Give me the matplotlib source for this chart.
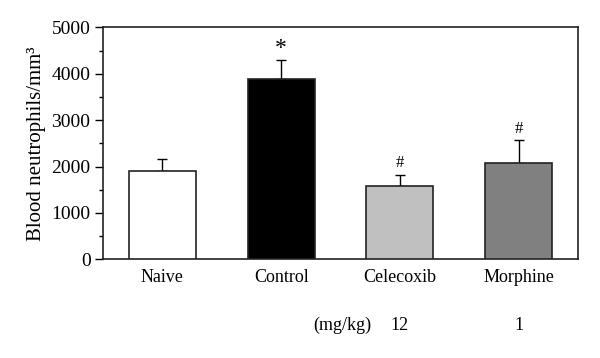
import numpy as np
import matplotlib
matplotlib.use("Agg")
import matplotlib.pyplot as plt
from matplotlib.ticker import MultipleLocator

plt.rcParams['font.family'] = ['Liberation Serif', 'DejaVu Serif']

# data
groups = ['Naive', 'Control', 'Celecoxib', 'Morphine']
means = [1903, 3892, 1586, 2069]
sem = [259, 397, 237, 496]
marks = ['', '*', '#', '#']
doses = ['', '', '12', '1']
colors = ['white', 'black', '#c0c0c0', '#808080']

fig = plt.figure(figsize=(6, 3.58), dpi=100)
ax = fig.add_axes([0.1717, 0.2757, 0.7916, 0.648])

x = np.arange(len(groups))
ax.bar(x, means, width=0.565, color=colors, edgecolor='#222222',
       linewidth=1.2, zorder=3)
ax.errorbar(x, means, yerr=[np.zeros(len(sem)), sem], fmt='none',
            ecolor='black', elinewidth=1, capsize=3.3, capthick=1, zorder=2)

# significance marks
for xi, m, s, mk in zip(x, means, sem, marks):
    if mk == '*':
        ax.text(xi, m + s + 20, mk, ha='center', va='bottom', fontsize=17)
    elif mk:
        ax.text(xi, m + s + 70, mk, ha='center', va='bottom', fontsize=12)

ax.set_xlim(-0.5, 3.5)
ax.set_ylim(0, 5000)
ax.yaxis.set_major_locator(MultipleLocator(1000))
ax.yaxis.set_minor_locator(MultipleLocator(500))
ax.tick_params(axis='y', which='major', direction='out', length=6,
               width=1, labelsize=14, pad=3)
ax.tick_params(axis='y', which='minor', direction='out', length=3, width=1)
ax.set_xticks(x)
ax.set_xticklabels(groups)
ax.tick_params(axis='x', length=0, pad=7, labelsize=13)

for sp in ax.spines.values():
    sp.set_linewidth(1.2)
    sp.set_color('#222222')

ax.set_ylabel('Blood neutrophils/mm³', fontsize=15, labelpad=4)

# dose row below the axis
ax.text(1.515, -1420, '(mg/kg)', ha='center', va='center', fontsize=13,
        clip_on=False)
for xi, d in zip(x, doses):
    if d:
        ax.text(xi, -1420, d, ha='center', va='center', fontsize=13,
                clip_on=False)

fig.savefig('out.png', dpi=100)
